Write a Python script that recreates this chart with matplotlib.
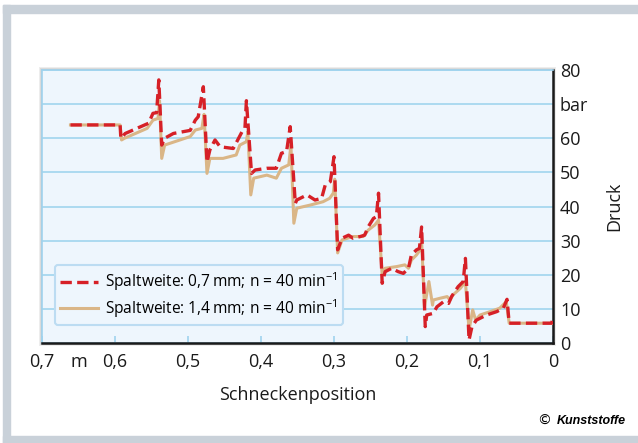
import matplotlib
matplotlib.use("Agg")
import matplotlib.pyplot as plt
from matplotlib.patches import Rectangle

plt.rcParams['font.family'] = ['Open Sans', 'DejaVu Sans']
plt.rcParams['mathtext.fontset'] = 'custom'
plt.rcParams['mathtext.rm'] = 'Open Sans'

# Spaltweite 0,7 mm (gestrichelt, rot)
x_07 = [0.661, 0.593, 0.592, 0.586, 0.554, 0.548, 0.543, 0.540, 0.536, 0.532,
        0.520, 0.497, 0.490, 0.486, 0.479, 0.474, 0.470, 0.463, 0.456, 0.438,
        0.426, 0.422, 0.420, 0.413, 0.408, 0.392, 0.379, 0.372, 0.365, 0.360,
        0.353, 0.351, 0.337, 0.326, 0.317, 0.312, 0.305, 0.300, 0.295, 0.289,
        0.280, 0.274, 0.264, 0.258, 0.253, 0.246, 0.242, 0.239, 0.234, 0.230,
        0.221, 0.212, 0.205, 0.198, 0.194, 0.187, 0.183, 0.180, 0.175, 0.173,
        0.164, 0.159, 0.150, 0.143, 0.139, 0.130, 0.123, 0.120, 0.115, 0.111,
        0.105, 0.091, 0.077, 0.068, 0.063, 0.060, 0.002, 0.0]
p_07 = [63.9, 63.9, 60.0, 61.4, 64.4, 67.3, 67.5, 77.1, 58.0, 60.0,
        61.4, 62.3, 65.3, 66.3, 75.1, 53.0, 56.6, 59.5, 57.5, 57.0,
        61.9, 62.9, 71.0, 49.7, 50.7, 51.2, 51.2, 55.6, 56.1, 63.4,
        40.9, 41.9, 43.4, 41.9, 42.4, 46.3, 47.3, 54.6, 27.3, 30.7,
        31.6, 30.7, 31.2, 31.6, 34.1, 36.5, 37.0, 43.9, 17.5, 20.9,
        21.9, 20.9, 20.4, 21.9, 25.8, 27.3, 27.7, 34.0, 4.8, 8.2,
        8.7, 10.6, 12.1, 11.6, 13.6, 16.5, 18.0, 24.8, 0.9, 4.8,
        6.7, 8.2, 9.2, 10.2, 12.8, 5.8, 5.8, 7.2]

# Spaltweite 1,4 mm (durchgezogen, beige)
x_14 = [0.661, 0.593, 0.591, 0.587, 0.556, 0.548, 0.541, 0.539, 0.536, 0.532,
        0.497, 0.490, 0.481, 0.478, 0.474, 0.470, 0.452, 0.434, 0.429, 0.420,
        0.418, 0.414, 0.410, 0.392, 0.379, 0.372, 0.362, 0.359, 0.355, 0.351,
        0.333, 0.315, 0.306, 0.301, 0.299, 0.295, 0.289, 0.274, 0.260, 0.253,
        0.244, 0.239, 0.234, 0.230, 0.214, 0.203, 0.198, 0.194, 0.187, 0.182,
        0.180, 0.176, 0.170, 0.165, 0.164, 0.155, 0.145, 0.141, 0.137, 0.127,
        0.120, 0.115, 0.110, 0.106, 0.100, 0.086, 0.073, 0.064, 0.060, 0.0]
p_14 = [63.9, 63.9, 59.5, 60.0, 62.9, 65.3, 65.8, 71.0, 54.1, 58.0,
        60.5, 62.4, 62.9, 67.0, 49.7, 54.1, 54.1, 55.1, 58.0, 59.0,
        62.0, 43.4, 48.3, 49.2, 48.3, 51.2, 52.2, 58.0, 35.1, 39.5,
        40.4, 41.4, 42.4, 43.9, 48.0, 26.4, 30.2, 31.2, 31.2, 33.1,
        34.6, 36.0, 19.9, 21.9, 22.4, 22.9, 21.9, 24.3, 25.8, 27.3,
        30.0, 10.6, 18.0, 11.1, 12.6, 13.1, 13.6, 12.6, 14.1, 16.0,
        18.0, 3.8, 9.7, 6.7, 8.2, 9.2, 10.2, 12.1, 5.8, 5.8]

x_ticks = [0.7, 0.6, 0.5, 0.4, 0.3, 0.2, 0.1, 0.0]
x_labels = ['0,7', '0,6', '0,5', '0,4', '0,3', '0,2', '0,1', '0']
y_ticks = [0, 10, 20, 30, 40, 50, 60, 70, 80]
y_labels = ['0', '10', '20', '30', '40', '50', '60', 'bar', '80']

fig = plt.figure(figsize=(6.38, 4.43), dpi=100)
W, H = 638, 443

# grauer Rahmen
frame = '#c9d1d9'
fig.patches.append(Rectangle((3 / W, 0), 7 / W, 1 - 5 / H, transform=fig.transFigure, color=frame, zorder=0))
fig.patches.append(Rectangle((3 / W, 1 - 13 / H), 1, 8 / H, transform=fig.transFigure, color=frame, zorder=0))
fig.patches.append(Rectangle((3 / W, 0), 1, 7 / H, transform=fig.transFigure, color=frame, zorder=0))

left, right, top, bottom = 42 / W, 553 / W, 1 - 70 / H, 1 - 343 / H
# Schatten
for i, a in enumerate([0.10, 0.12, 0.15]):
    d = (3 - i) / W
    dh = (3 - i) / H
    fig.patches.append(Rectangle((left - d, bottom - dh), right - left + 2 * d, top - bottom + 2 * dh,
                                 transform=fig.transFigure, color='#555555', alpha=a, zorder=1, lw=0))

ax = fig.add_axes([left, bottom, right - left, top - bottom])
ax.set_facecolor('#eef6fd')
ax.set_zorder(2)

ax.plot(x_14, p_14, color='#dab687', lw=2.2, solid_joinstyle='round',
        label='Spaltweite: 1,4\u2009mm; n = 40 min$^{-1}$', zorder=3)
ax.plot(x_07, p_07, color='#d62027', lw=2.4, dashes=(3.4, 1.6),
        label='Spaltweite: 0,7\u2009mm; n = 40 min$^{-1}$', zorder=4)

ax.set_xlim(0.7, 0.0)
ax.set_ylim(0, 80)
ax.set_xticks(x_ticks)
ax.set_xticklabels(x_labels, fontsize=13, color='#1a1a1a')
ax.tick_params(axis='x', direction='in', length=5, width=1.2, color='#9fd3ee', pad=7)
ax.text(0.65, -0.035, 'm', transform=ax.get_xaxis_transform(), ha='center', va='top',
        fontsize=13, color='#1a1a1a')

ax.yaxis.tick_right()
ax.yaxis.set_label_position('right')
ax.set_yticks(y_ticks)
ax.set_yticklabels(y_labels, fontsize=13, color='#1a1a1a')
ax.tick_params(axis='y', length=0, pad=5)
ax.set_ylabel('Druck', fontsize=13, labelpad=12, color='#1a1a1a')
ax.set_xlabel('Schneckenposition', fontsize=13, labelpad=11, color='#1a1a1a')

ax.grid(axis='y', color='#a6d7ef', lw=1.3)
ax.set_axisbelow(True)
for s in ['top', 'left']:
    ax.spines[s].set_color('#9fd3ee')
    ax.spines[s].set_linewidth(1.2)
for s in ['right', 'bottom']:
    ax.spines[s].set_color('#1a1a1a')
    ax.spines[s].set_linewidth(1.8)

h, l = ax.get_legend_handles_labels()
leg = ax.legend(h[::-1], l[::-1], loc='lower left', bbox_to_anchor=(0.025, 0.065), fontsize=11.2,
                frameon=True, fancybox=True, handlelength=2.4, handletextpad=0.5,
                borderpad=0.35, labelspacing=0.25, borderaxespad=0)
leg.get_frame().set_facecolor('#eef6fd')
leg.get_frame().set_edgecolor('#bcdcf2')
leg.get_frame().set_linewidth(1.5)
leg.get_frame().set_alpha(1)

fig.text(0.852, 0.05, '\u00a9', fontsize=10, ha='center', va='center', family='DejaVu Sans')
fig.text(0.872, 0.05, 'Kunststoffe', fontsize=9, ha='left', va='center',
         family='Liberation Sans', weight='bold', style='italic')

fig.savefig('out.png', dpi=100)
